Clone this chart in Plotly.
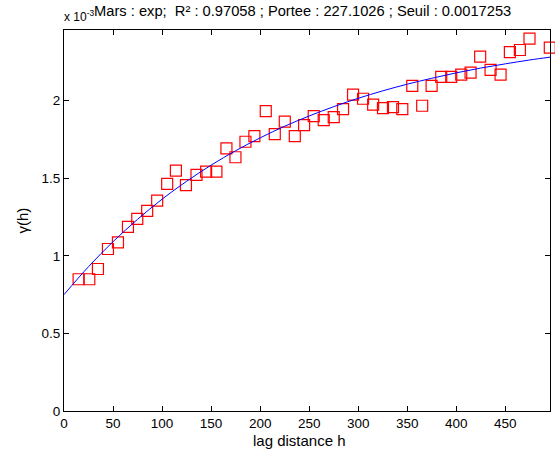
import plotly.graph_objects as go

# Experimental variogram (lag distance, gamma in units of 1e-3)
lag = [14.9, 25.8, 34.6, 44.8, 55.0, 65.2, 74.7, 84.8, 95.0, 105.2,
       114.1, 124.3, 135.1, 144.9, 155.4, 165.6, 174.8, 185.0, 194.1, 205.7,
       214.9, 225.1, 235.3, 244.8, 254.6, 264.8, 275.0, 284.5, 294.7, 304.9,
       315.2, 325.2, 335.4, 344.9, 355.1, 365.2, 374.8, 384.6, 394.8, 405.0,
       414.5, 424.3, 434.9, 445.1, 454.6, 464.8, 474.6, 495.3]
gamma_e3 = [0.849, 0.849, 0.915, 1.044, 1.087, 1.187, 1.238, 1.290, 1.356, 1.463,
            1.549, 1.455, 1.521, 1.543, 1.543, 1.692, 1.635, 1.735, 1.771, 1.932,
            1.784, 1.864, 1.771, 1.842, 1.900, 1.874, 1.893, 1.945, 2.039, 2.012,
            1.974, 1.951, 1.958, 1.945, 2.095, 1.967, 2.095, 2.153, 2.153, 2.168,
            2.180, 2.283, 2.198, 2.168, 2.313, 2.326, 2.399, 2.341]

# Fitted exponential model curve (units of 1e-3)
model_h = [0, 25, 50, 75, 100, 125, 150, 175, 200, 225, 250, 275, 300,
           325, 350, 375, 400, 425, 450, 475, 495.5]
model_e3 = [0.750, 0.930, 1.091, 1.235, 1.365, 1.480, 1.584, 1.677, 1.760, 1.835,
            1.901, 1.961, 2.015, 2.063, 2.106, 2.144, 2.179, 2.210, 2.237, 2.262, 2.280]

x_ticks = [0, 50, 100, 150, 200, 250, 300, 350, 400, 450]
y_ticks = [0, 0.5, 1, 1.5, 2]
y_tick_text = ["0", "0.5", "1", "1.5", "2"]

title_text = "Mars : exp;  R² : 0.97058 ; Portee : 227.1026 ; Seuil : 0.0017253"

FONT = "Liberation Sans, Arial, sans-serif"
TICK = 13.5
LAB = 15

fig = go.Figure()
fig.add_trace(go.Scatter(
    x=lag, y=gamma_e3, mode="markers",
    marker=dict(symbol="square-open", size=11, color="#FF0000",
                line=dict(width=1.2, color="#FF0000")),
    cliponaxis=False, showlegend=False))
fig.add_trace(go.Scatter(
    x=model_h, y=model_e3, mode="lines", line_shape="spline",
    line=dict(color="#0000FF", width=1), showlegend=False))

axis_common = dict(showline=True, linecolor="black", linewidth=1, mirror="allticks",
                   ticks="inside", ticklen=5, tickcolor="black", showgrid=False,
                   zeroline=False, tickfont=dict(family=FONT, size=TICK, color="black"))

fig.update_xaxes(range=[0, 495.5], tickvals=x_ticks, **axis_common)
fig.update_yaxes(range=[0, 2.455], tickvals=y_ticks, ticktext=y_tick_text, **axis_common)

fig.update_layout(
    width=555, height=454,
    margin=dict(l=64, r=5, t=30, b=43),
    plot_bgcolor="white", paper_bgcolor="white",
    font=dict(family=FONT, size=TICK, color="black"),
    annotations=[
        dict(text=title_text, xref="paper", yref="paper", x=0, xshift=28, y=1.0, yshift=19,
             xanchor="left", yanchor="middle", showarrow=False,
             font=dict(family=FONT, size=14.7, color="black")),
        dict(text="x 10<sup>-3</sup>", xref="paper", yref="paper", x=0, xshift=-2, y=1.0, yshift=14,
             xanchor="left", yanchor="middle", showarrow=False,
             font=dict(family=FONT, size=12, color="black")),
        dict(text="lag distance h", xref="paper", yref="paper", x=0.485, y=0, yshift=-29,
             xanchor="center", yanchor="middle", showarrow=False,
             font=dict(family=FONT, size=LAB, color="black")),
        dict(text="γ(h)", xref="paper", yref="paper", x=0, xshift=-42, y=0.5,
             xanchor="center", yanchor="middle", textangle=-90, showarrow=False,
             font=dict(family=FONT, size=LAB, color="black")),
    ],
)

fig.write_html("out.html", config={"displayModeBar": False},
               post_script="document.body.style.margin='0';")
